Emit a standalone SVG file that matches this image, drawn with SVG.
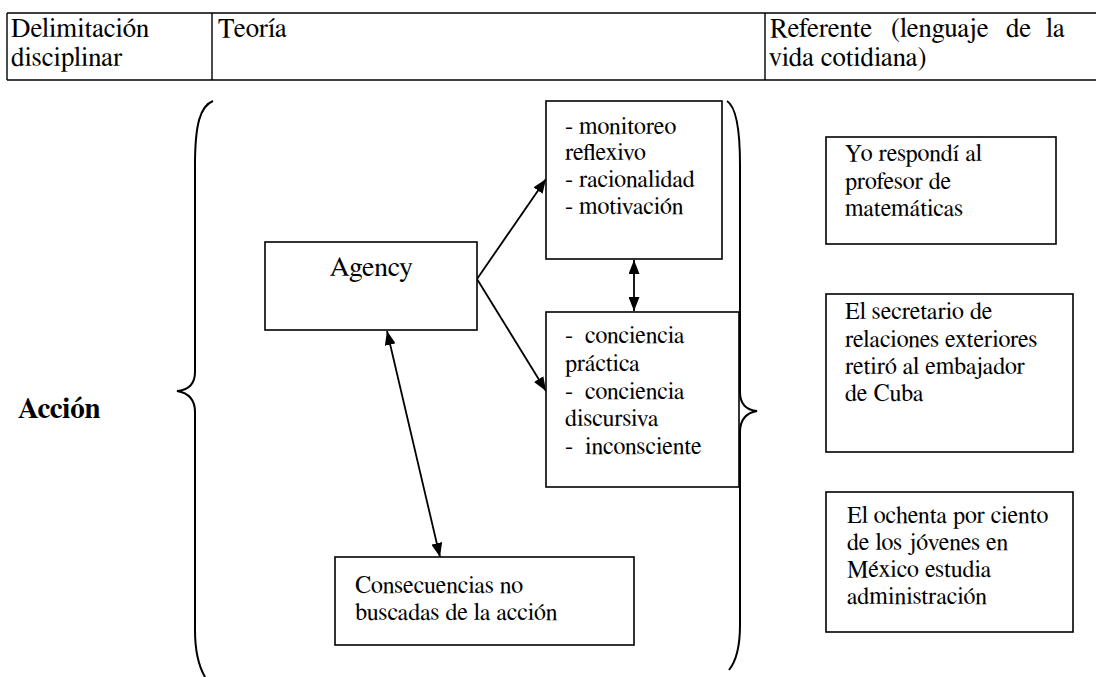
<svg xmlns="http://www.w3.org/2000/svg" width="1096" height="677" viewBox="0 0 1096 677" font-family="FreeSerif, Liberation Serif, Times New Roman, serif">
<style>
.box{fill:#fff;stroke:#000;stroke-width:1.6}
.tbl{stroke:#000;stroke-width:1.4;fill:none}
.br{fill:none;stroke:#000;stroke-width:2}
.ar{stroke:#000;stroke-width:1.8;fill:none}
</style>
<defs>
<marker id="ah" viewBox="0 0 14 11" refX="14" refY="5.5" markerWidth="14" markerHeight="11" markerUnits="userSpaceOnUse" orient="auto-start-reverse">
<path d="M0,0 L14,5.5 L0,11 Z" fill="#000"/>
</marker>
</defs>
<rect width="1096" height="677" fill="#fff"/>
<g id="table" font-size="27">
<path class="tbl" d="M7,13 H1096 M7,80 H1096 M7,13 V80 M212,13 V80 M765,13 V80"/>
<text x="11" y="37">Delimitación</text>
<text x="11" y="66">disciplinar</text>
<text x="218" y="37">Teoría</text>
<text y="37"><tspan x="770">Referente</tspan><tspan x="891">(lenguaje</tspan><tspan x="1006">de</tspan><tspan x="1046">la</tspan></text>
<text x="769" y="66">vida cotidiana)</text>
</g>
<g id="accion">
<text x="18" y="418" font-weight="bold" font-size="29">Acción</text>
</g>
<g id="braces">
<path class="br" d="M213,101 C200,106 195,125 195,165 L195,372 C195,384 189,390 177,391 C189,393 195,400 195,412 L195,630 C195,650 198,665 205,677"/>
<path class="br" d="M727,101 C735,106 740,125 740,165 L740,392 C740,404 746,410 757,411 C746,413 740,420 740,432 L740,625 C740,645 737,660 729,670"/>
</g>
<g id="connectors">
<line class="ar" x1="477" y1="279" x2="546" y2="179" marker-end="url(#ah)"/>
<line class="ar" x1="477" y1="279" x2="546" y2="391" marker-end="url(#ah)"/>
<line class="ar" x1="634" y1="260" x2="634" y2="311" marker-start="url(#ah)" marker-end="url(#ah)"/>
<line class="ar" x1="387" y1="331" x2="440" y2="557" marker-start="url(#ah)" marker-end="url(#ah)"/>
</g>
<g id="agency">
<rect class="box" x="265" y="242" width="212" height="88"/>
<text x="371" y="276" text-anchor="middle" font-size="28">Agency</text>
</g>
<g id="monitoreo" font-size="24">
<rect class="box" x="546" y="101" width="176" height="158"/>
<text x="565" y="134">- monitoreo</text>
<text x="565" y="160">reflexivo</text>
<text x="565" y="187">- racionalidad</text>
<text x="565" y="214">- motivación</text>
</g>
<g id="conciencia" font-size="24">
<rect class="box" x="546" y="312" width="193" height="175"/>
<text x="565" y="343" xml:space="preserve">-  conciencia</text>
<text x="565" y="371">práctica</text>
<text x="565" y="399" xml:space="preserve">-  conciencia</text>
<text x="565" y="426">discursiva</text>
<text x="565" y="454" xml:space="preserve">-  inconsciente</text>
</g>
<g id="consecuencias" font-size="24">
<rect class="box" x="335" y="557" width="299" height="88"/>
<text x="355" y="593">Consecuencias no</text>
<text x="355" y="620">buscadas de la acción</text>
</g>
<g id="ref1" font-size="24">
<rect class="box" x="826" y="137" width="230" height="107"/>
<text x="845" y="161">Yo respondí al</text>
<text x="845" y="189">profesor de</text>
<text x="845" y="216">matemáticas</text>
</g>
<g id="ref2" font-size="24">
<rect class="box" x="826" y="294" width="247" height="158"/>
<text x="845" y="319">El secretario de</text>
<text x="845" y="347">relaciones exteriores</text>
<text x="845" y="374">retiró al embajador</text>
<text x="845" y="401">de Cuba</text>
</g>
<g id="ref3" font-size="24">
<rect class="box" x="826" y="492" width="247" height="140"/>
<text x="847" y="523">El ochenta por ciento</text>
<text x="847" y="550">de los jóvenes en</text>
<text x="847" y="577">México estudia</text>
<text x="847" y="604">administración</text>
</g>
</svg>
